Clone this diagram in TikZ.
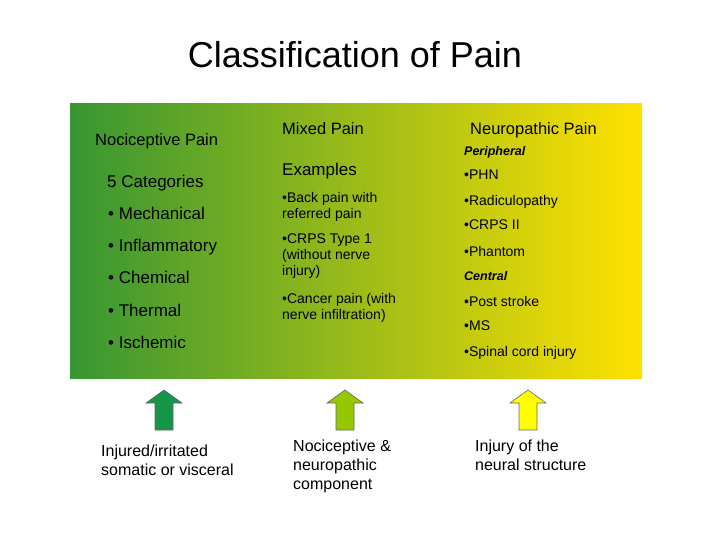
\documentclass[tikz,border=0pt]{standalone}
\usepackage{fontspec}
\setmainfont{Liberation Sans}
\begin{document}
\begin{tikzpicture}[x=1pt,y=-1pt,
  t/.style={anchor=north west,inner sep=0pt,align=left,font=\fontsize{14}{16}\selectfont},
  b/.style={anchor=north west,inner sep=0pt,align=left,font=\fontsize{17}{20}\selectfont},
  h/.style={anchor=north west,inner sep=0pt,font=\fontsize{16.5}{19}\selectfont},
  it/.style={anchor=north west,inner sep=0pt,font=\fontsize{12.5}{15}\selectfont\itshape\bfseries},
  lab/.style={anchor=north west,inner sep=0pt,align=left,font=\fontsize{16}{19}\selectfont},
  arr/.style={draw=black!60,line width=0.6pt}]
\useasboundingbox (0,0) rectangle (720,540);
\node (title) at (355,55) {\fontsize{36}{40}\selectfont Classification of Pain};
\shade[left color={rgb,255:red,55;green,150;blue,50}, middle color={rgb,255:red,200;green,200;blue,30}, right color={rgb,255:red,255;green,225;blue,0}] (70,104) rectangle (642,378);
\node[h] (nocp) at (95,133) {Nociceptive Pain};
\node[h] (mix) at (282,122) {Mixed Pain};
\node[h] (neu) at (470,122) {Neuropathic Pain};
\node[it] (per) at (464,146) {Peripheral};
\node[b] (cat) at (107,175) {5 Categories};
\node[b] (c1) at (108,207) {\textbullet\ Mechanical};
\node[b] (c2) at (108,239) {\textbullet\ Inflammatory};
\node[b] (c3) at (108,271) {\textbullet\ Chemical};
\node[b] (c4) at (108,304) {\textbullet\ Thermal};
\node[b] (c5) at (108,336) {\textbullet\ Ischemic};
\node[b] (ex) at (282,163) {Examples};
\node[t] (e1) at (282,192) {\textbullet Back pain with\\referred pain};
\node[t] (e2) at (282,234) {\textbullet CRPS Type 1\\(without nerve\\injury)};
\node[t] (e3) at (282,293) {\textbullet Cancer pain (with\\nerve infiltration)};
\node[t] (n1) at (464,170) {\textbullet PHN};
\node[t] (n2) at (464,195) {\textbullet Radiculopathy};
\node[t] (n3) at (464,220) {\textbullet CRPS II};
\node[t] (n4) at (464,246) {\textbullet Phantom};
\node[it] (cen) at (464,271) {Central};
\node[t] (n5) at (464,296) {\textbullet Post stroke};
\node[t] (n6) at (464,321) {\textbullet MS};
\node[t] (n7) at (464,346) {\textbullet Spinal cord injury};
\foreach \cx/\col in {164/{rgb,255:red,20;green,150;blue,70}, 345/{rgb,255:red,150;green,200;blue,0}, 528/{rgb,255:red,255;green,255;blue,0}}
  \filldraw[arr,fill=\col] (\cx-9,430) -- (\cx-9,403) -- (\cx-18,403) -- (\cx,390) -- (\cx+18,403) -- (\cx+9,403) -- (\cx+9,430) -- cycle;
\node[lab] (l1) at (101,445) {Injured/irritated\\somatic or visceral};
\node[lab] (l2) at (293,440) {Nociceptive \&\\neuropathic\\component};
\node[lab] (l3) at (475,440) {Injury of the\\neural structure};
\end{tikzpicture}
\end{document}
